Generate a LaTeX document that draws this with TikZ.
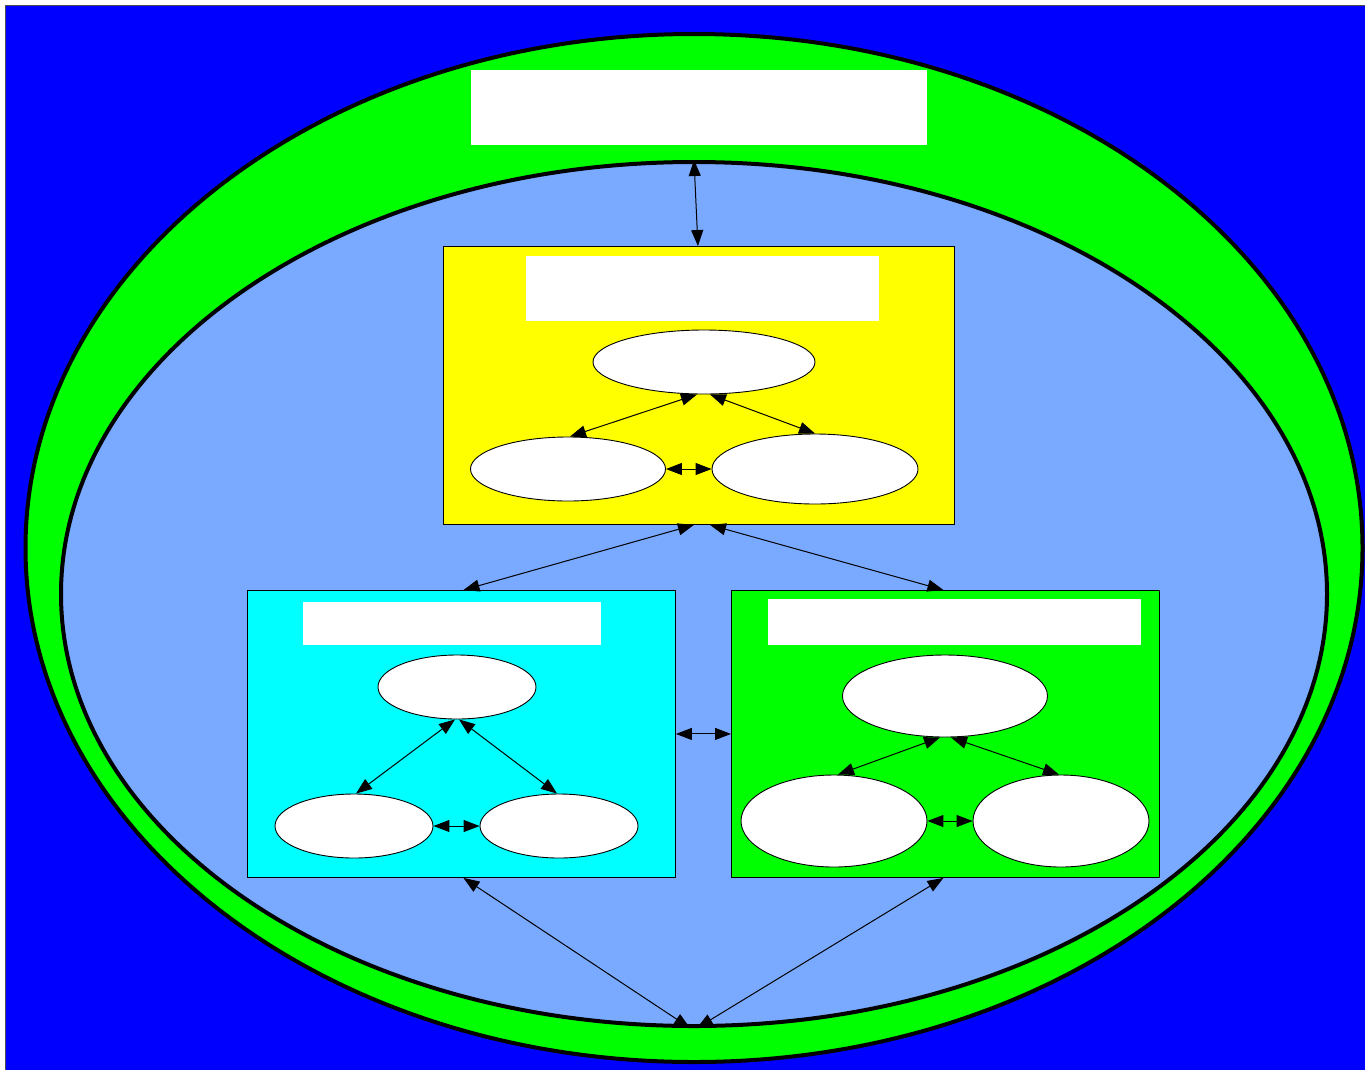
\documentclass[tikz,border=0pt]{standalone}
\usetikzlibrary{shapes.geometric,arrows.meta}
\definecolor{bgblue}{RGB}{0,0,255}
\definecolor{gvgreen}{RGB}{0,255,0}
\definecolor{lightblue}{RGB}{122,170,255}
\definecolor{gvyellow}{RGB}{255,255,0}
\definecolor{gvcyan}{RGB}{0,255,255}
\tikzset{
  bigoval/.style={ellipse, draw=black, line width=4pt, inner sep=0pt},
  clusterbox/.style={rectangle, draw=black, line width=0.9pt, inner sep=0pt, anchor=north west},
  titlebox/.style={rectangle, fill=white, draw=none, inner sep=0pt, anchor=north west},
  oval/.style={ellipse, draw=black, fill=white, line width=0.9pt, inner sep=0pt},
  link/.style={line width=1pt, {Triangle[length=16pt,width=12pt]}-{Triangle[length=16pt,width=12pt]}},
}
\begin{document}
\begin{tikzpicture}[x=1pt,y=-1pt]
\useasboundingbox (0,0) rectangle (1365,1069);
\fill[white] (0,0) rectangle (1365,1069);
\draw[fill=bgblue, draw=black!70, line width=1pt] (5,5) rectangle (1370,1075);
% outer and inner ovals
\node[bigoval, fill=gvgreen, minimum width=1337pt, minimum height=1028pt] (outer) at (694,548) {};
\node[titlebox, minimum width=456pt, minimum height=75pt] (toptitle) at (471,70) {};
\node[bigoval, fill=lightblue, minimum width=1266pt, minimum height=864pt] (inner) at (694,594) {};
% yellow cluster
\node[clusterbox, fill=gvyellow, minimum width=511pt, minimum height=278pt] (ybox) at (443,246) {};
\node[titlebox, minimum width=353pt, minimum height=65pt] (ytitle) at (526,256) {};
\node[oval, minimum width=222pt, minimum height=64pt] (ytop) at (704,362) {};
\node[oval, minimum width=195pt, minimum height=64pt] (yleft) at (568,469) {};
\node[oval, minimum width=206pt, minimum height=70pt] (yright) at (815,469) {};
% cyan cluster
\node[clusterbox, fill=gvcyan, minimum width=428pt, minimum height=287pt] (cbox) at (247,590) {};
\node[titlebox, minimum width=298pt, minimum height=43pt] (ctitle) at (303,602) {};
\node[oval, minimum width=158pt, minimum height=64pt] (ctop) at (457,687) {};
\node[oval, minimum width=158pt, minimum height=64pt] (cleft) at (354,826) {};
\node[oval, minimum width=158pt, minimum height=64pt] (cright) at (559,826) {};
% green cluster
\node[clusterbox, fill=gvgreen, minimum width=428pt, minimum height=287pt] (gbox) at (731,590) {};
\node[titlebox, minimum width=373pt, minimum height=46pt] (gtitle) at (768,599) {};
\node[oval, minimum width=205pt, minimum height=82pt] (gtop) at (945,696) {};
\node[oval, minimum width=186pt, minimum height=92pt] (gleft) at (834,821) {};
\node[oval, minimum width=176pt, minimum height=92pt] (gright) at (1061,821) {};
% connectors
\draw[link] (inner.north) -- ([xshift=-1pt]ybox.north);
\draw[link] ([xshift=-5pt]ybox.south) -- ([xshift=2pt]cbox.north);
\draw[link] ([xshift=11pt]ybox.south) -- ([xshift=-2pt]gbox.north);
\draw[link] (cbox.east) -- (gbox.west);
\draw[link] ([xshift=2pt]cbox.south) -- ([xshift=-4pt]inner.south);
\draw[link] ([xshift=-2pt]gbox.south) -- ([xshift=3pt]inner.south);
\draw[link] ([xshift=-7pt]ytop.south) -- ([xshift=2pt]yleft.north);
\draw[link] ([xshift=6pt]ytop.south) -- (yright.north);
\draw[link] (yleft.east) -- (yright.west);
\draw[link] ([xshift=-2pt]ctop.south) -- ([xshift=2pt]cleft.north);
\draw[link] ([xshift=2pt]ctop.south) -- ([xshift=-2pt]cright.north);
\draw[link] (cleft.east) -- (cright.west);
\draw[link] ([xshift=-5pt]gtop.south) -- ([xshift=4pt]gleft.north);
\draw[link] ([xshift=6pt]gtop.south) -- ([xshift=-2pt]gright.north);
\draw[link] (gleft.east) -- (gright.west);
\end{tikzpicture}
\end{document}
